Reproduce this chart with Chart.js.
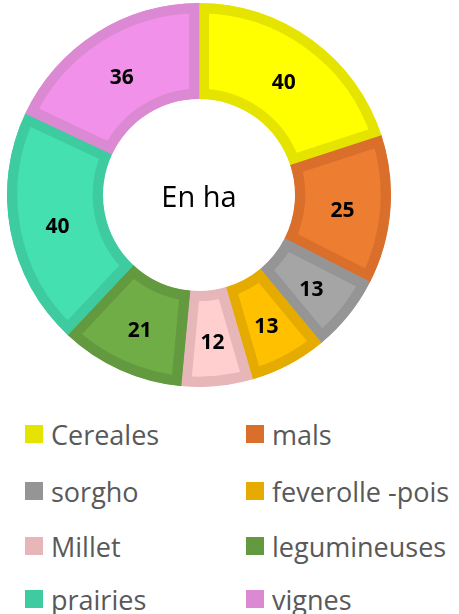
<!DOCTYPE html>
<html>
<head>
<meta charset="utf-8">
<script src="https://cdn.jsdelivr.net/npm/chart.js"></script>
<style>
    body { margin: 0; background: #fff; width: 459px; height: 614px; position: relative; overflow: hidden; }
    #chartBox { position: absolute; left: 7px; top: 3px; width: 384px; height: 384px; }
    .item { position: absolute; height: 30px; display: flex; align-items: center;
            font-family: "Open Sans", sans-serif; font-size: 27px; color: #595959; }
    .item span.box { width: 18px; height: 18px; margin-right: 8px; }
</style>
</head>
<body>
<div id="chartBox"><canvas id="surfaceChart" width="384" height="384"></canvas></div>
<div id="legend"></div>
<script>
const labels = ['Cereales', 'mals', 'sorgho', 'feverolle -pois', 'Millet', 'legumineuses', 'prairies', 'vignes'];
const hectares = [40, 25, 13, 13, 12, 21, 40, 36];
const fillColors = ['#FFFF00', '#ED7D31', '#A5A5A5', '#FFC000', '#FFCFCF', '#70AD47', '#45E0B0', '#F291E9'];
const edgeColors = ['#E4E400', '#DA6F2C', '#959595', '#E6AB00', '#E6B6B9', '#639A3F', '#3ECB9F', '#DA89D2'];
const centerText = 'En ha';

// numbers inside the segments + the text in the hole
const labelPlugin = {
    id: 'segmentLabels',
    afterDatasetsDraw(chart) {
        const ctx = chart.ctx;
        const meta = chart.getDatasetMeta(0);
        ctx.save();
        ctx.textAlign = 'center';
        ctx.textBaseline = 'middle';
        ctx.fillStyle = '#000';
        ctx.font = 'bold 21px "Open Sans", sans-serif';
        meta.data.forEach((arc, i) => {
            const pos = arc.tooltipPosition();
            ctx.fillText(hectares[i], pos.x, pos.y + 5);
        });
        const first = meta.data[0];
        ctx.font = '29px "Open Sans", sans-serif';
        ctx.fillText(centerText, first.x, first.y + 4);
        ctx.restore();
    }
};

new Chart(document.getElementById('surfaceChart').getContext('2d'), {
    type: 'doughnut',
    data: {
        labels: labels,
        datasets: [{
            data: hectares,
            backgroundColor: fillColors,
            borderColor: edgeColors,
            borderWidth: 10,
            borderAlign: 'inner',
            hoverOffset: 0
        }]
    },
    options: {
        responsive: false,
        animation: false,
        cutout: '50%',
        layout: { padding: 0 },
        plugins: {
            legend: { display: false },
            tooltip: { enabled: false }
        }
    },
    plugins: [labelPlugin]
});

// two-column legend
const legend = document.getElementById('legend');
const rowY = [419, 476, 531, 584];
labels.forEach((name, i) => {
    const el = document.createElement('div');
    el.className = 'item';
    el.style.left = (i % 2 === 0 ? 25 : 246) + 'px';
    el.style.top = rowY[Math.floor(i / 2)] + 'px';
    const box = document.createElement('span');
    box.className = 'box';
    box.style.background = edgeColors[i];
    el.appendChild(box);
    el.appendChild(document.createTextNode(name));
    legend.appendChild(el);
});
</script>
</body>
</html>
